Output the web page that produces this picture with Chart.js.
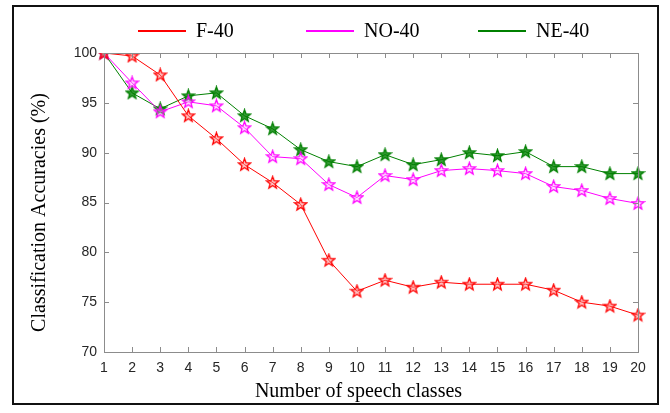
<!DOCTYPE html>
<html>
<head>
<meta charset="utf-8">
<script src="https://cdn.jsdelivr.net/npm/chart.js@4"></script>
<style>
  html, body { margin: 0; padding: 0; background: #fff; }
  #wrap { width: 670px; height: 413px; }
</style>
</head>
<body>
<div id="wrap"><canvas id="acc" width="670" height="413"></canvas></div>
<script>
// number of speech classes
var classes = ["1", "2", "3", "4", "5", "6", "7", "8", "9", "10", "11", "12", "13", "14", "15", "16", "17", "18", "19", "20"];
var f40 = [100, 99.7, 97.8, 93.7, 91.4, 88.8, 87.0, 84.8, 79.2, 76.1, 77.2, 76.5, 77.0, 76.8, 76.8, 76.8, 76.2, 75.0, 74.6, 73.7];
var no40 = [100, 97.0, 94.1, 95.1, 94.7, 92.5, 89.6, 89.4, 86.8, 85.5, 87.7, 87.3, 88.2, 88.4, 88.2, 87.9, 86.6, 86.2, 85.4, 84.9];
var ne40 = [100, 96.0, 94.4, 95.7, 96.0, 93.7, 92.4, 90.3, 89.1, 88.6, 89.8, 88.8, 89.3, 90.0, 89.7, 90.1, 88.6, 88.6, 87.9, 87.9];
var yTicks = [70, 75, 80, 85, 90, 95, 100];
var seriesNames = ["F-40", "NO-40", "NE-40"];

var RED = "#ff0000";
var MAGENTA = "#ff00ff";
var GREEN = "#008000";

// five pointed star marker, like matlab 'p'
function starMarker(color, fill) {
  var c = document.createElement("canvas");
  c.width = 15;
  c.height = 15;
  var ctx = c.getContext("2d");
  var cx = 7.5, cy = 7.8, ro = 6.4, ri = 2.7;
  ctx.beginPath();
  for (var i = 0; i < 10; i++) {
    var r = i % 2 === 0 ? ro : ri;
    var a = -Math.PI / 2 + i * Math.PI / 5;
    var px = cx + r * Math.cos(a), py = cy + r * Math.sin(a);
    if (i === 0) ctx.moveTo(px, py); else ctx.lineTo(px, py);
  }
  ctx.closePath();
  ctx.fillStyle = fill;
  ctx.fill();
  ctx.lineWidth = 1.3;
  ctx.strokeStyle = color;
  ctx.stroke();
  return c;
}

// frame, box, inward ticks and legend (matlab look)
var matlabBox = {
  id: "matlabBox",
  afterDraw: function (chart) {
    var ctx = chart.ctx;
    var a = chart.chartArea;
    var xs = chart.scales.x, ys = chart.scales.y;
    ctx.save();
    ctx.strokeStyle = "#8c8c8c";
    ctx.lineWidth = 1;
    ctx.beginPath();
    xs.ticks.forEach(function (t, i) {
      var px = Math.round(xs.getPixelForTick(i)) + 0.5;
      ctx.moveTo(px, a.bottom); ctx.lineTo(px, a.bottom - 5);
      ctx.moveTo(px, a.top); ctx.lineTo(px, a.top + 5);
    });
    ys.ticks.forEach(function (t) {
      var py = Math.round(ys.getPixelForValue(t.value)) + 0.5;
      ctx.moveTo(a.left, py); ctx.lineTo(a.left + 5, py);
      ctx.moveTo(a.right, py); ctx.lineTo(a.right - 5, py);
    });
    ctx.stroke();
    ctx.strokeRect(Math.round(a.left) + 0.5, Math.round(a.top) + 0.5, Math.round(a.right - a.left), Math.round(a.bottom - a.top));

    // outer frame
    ctx.strokeStyle = "#111";
    ctx.lineWidth = 2;
    ctx.strokeRect(13, 6, 645, 398);

    // legend
    var starts = [138, 306, 478];
    ctx.font = "20px 'Liberation Serif', 'Times New Roman', serif";
    ctx.textBaseline = "middle";
    ctx.fillStyle = "#000";
    chart.data.datasets.forEach(function (ds, i) {
      var x0 = starts[i];
      ctx.strokeStyle = ds.borderColor;
      ctx.lineWidth = 2;
      ctx.beginPath();
      ctx.moveTo(x0, 31);
      ctx.lineTo(x0 + 48, 31);
      ctx.stroke();
      ctx.fillText(ds.label, x0 + 58, 32);
    });
    ctx.restore();
  }
};

function series(name, data, color, fill) {
  return {
    label: name,
    data: data,
    borderColor: color,
    backgroundColor: color,
    borderWidth: 1,
    pointStyle: starMarker(color, fill),
    pointRadius: 7,
    tension: 0
  };
}

var ctx = document.getElementById("acc");
new Chart(ctx, {
  type: "line",
  data: {
    labels: classes,
    datasets: [
      series(seriesNames[0], f40, RED, "rgba(255,120,120,0.45)"),
      series(seriesNames[1], no40, MAGENTA, "rgba(255,160,255,0.35)"),
      series(seriesNames[2], ne40, GREEN, "rgba(0,128,0,0.8)")
    ]
  },
  options: {
    responsive: false,
    animation: false,
    layout: { padding: { left: 14, right: 32, top: 53, bottom: 8 } },
    plugins: {
      legend: { display: false },
      tooltip: { enabled: false }
    },
    scales: {
      x: {
        type: "category",
        offset: false,
        grid: { display: false, drawTicks: false },
        border: { display: false },
        ticks: {
          padding: 8,
          maxRotation: 0,
          autoSkip: false,
          color: "#262626",
          font: { family: "'Liberation Sans', Arial, sans-serif", size: 14 }
        },
        title: {
          display: true,
          text: "Number of speech classes\u00a0\u00a0\u00a0\u00a0\u00a0",
          color: "#000",
          padding: { top: 0, bottom: 1 },
          font: { family: "'Liberation Serif', 'Times New Roman', serif", size: 20 }
        },
        afterFit: function (s) { s.height = 53; }
      },
      y: {
        min: 70,
        max: 100,
        afterBuildTicks: function (s) {
          s.ticks = yTicks.map(function (v) { return { value: v }; });
        },
        grid: { display: false, drawTicks: false },
        border: { display: false },
        ticks: {
          padding: 7,
          color: "#262626",
          font: { family: "'Liberation Sans', Arial, sans-serif", size: 14 }
        },
        title: {
          display: true,
          text: "Classification Accuracies (%)\u00a0\u00a0\u00a0\u00a0",
          color: "#000",
          padding: { top: 14, bottom: 0 },
          font: { family: "'Liberation Serif', 'Times New Roman', serif", size: 20 }
        },
        afterFit: function (s) { s.width = 90; }
      }
    }
  },
  plugins: [matlabBox]
});
</script>
</body>
</html>
